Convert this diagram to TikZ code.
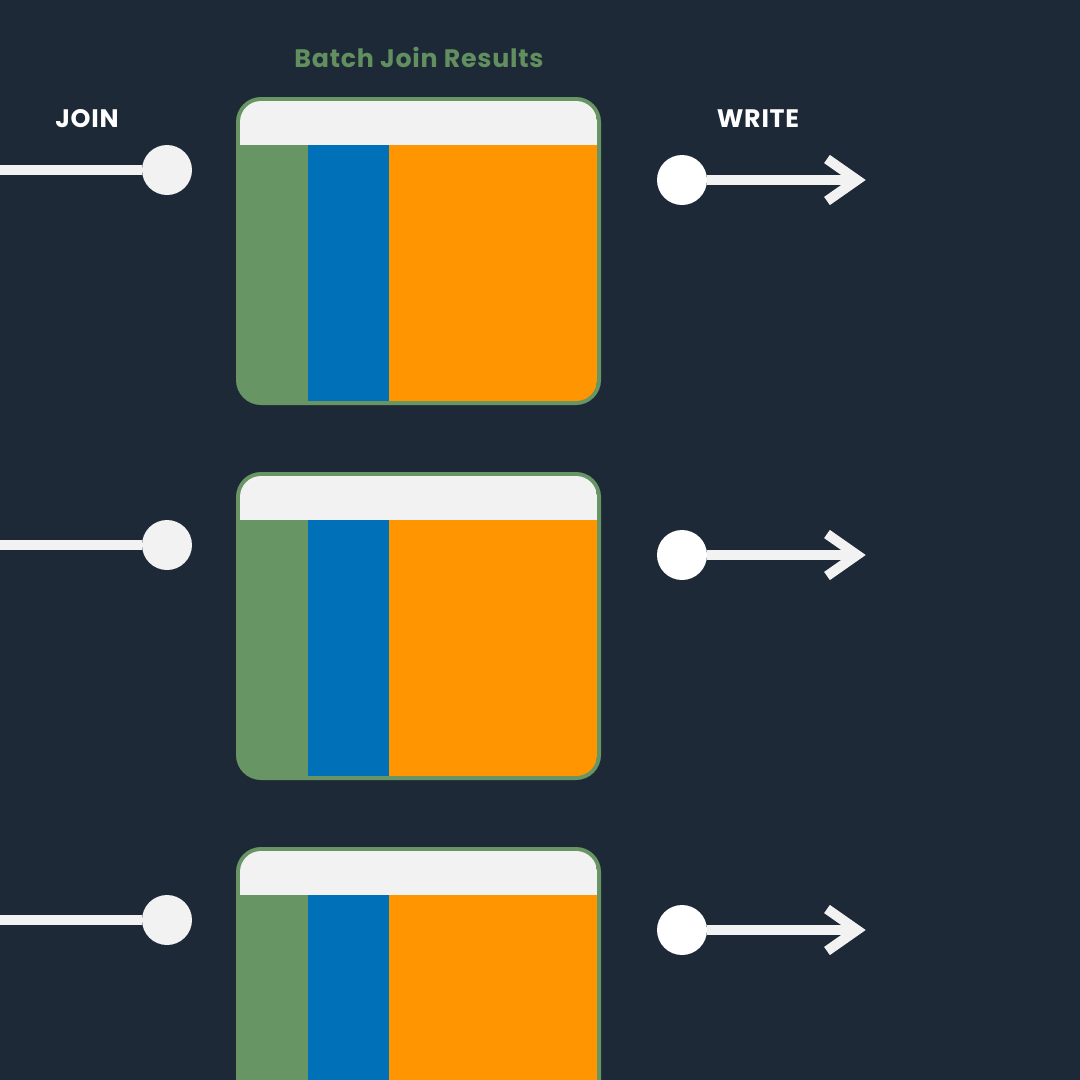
\documentclass[tikz,border=0pt]{standalone}
\usepackage{fontspec}
\setmainfont{Poppins}[LetterSpace=3]
\usepackage{tikz}
\usetikzlibrary{calc,positioning}
\definecolor{bgnavy}{RGB}{29,41,55}
\definecolor{cardgreen}{RGB}{103,150,100}
\definecolor{titlegreen}{RGB}{97,143,95}
\definecolor{colblue}{RGB}{0,112,184}
\definecolor{colorange}{RGB}{255,149,0}
\definecolor{headgray}{RGB}{242,242,242}
\tikzset{
  label/.style={text=white,font=\bfseries\fontsize{18}{21}\selectfont},
  dot/.style={circle,fill=#1,inner sep=0pt,minimum size=50*0.025cm},
  wire/.style={draw=headgray,line width=10*0.025cm},
  barb/.style={draw=headgray,line width=10*0.025cm,miter limit=10}
}
\newcommand{\card}[1]{%
  \fill[cardgreen,rounded corners=25*0.025cm] (236,#1) rectangle (601,#1+308);
  \begin{scope}
    \clip[rounded corners=21*0.025cm] (240,#1+4) rectangle (597,#1+304);
    \fill[headgray] (240,#1+4) rectangle (597,#1+48);
    \fill[colblue] (308,#1+48) rectangle (389,#1+304);
    \fill[colorange] (389,#1+48) rectangle (597,#1+304);
  \end{scope}
}
\begin{document}
\begin{tikzpicture}[x=0.025cm,y=-0.025cm]
\fill[bgnavy] (0,0) rectangle (1080,1080);
\useasboundingbox (0,0) rectangle (1080,1080);
\clip (0,0) rectangle (1080,1080);

\node[label,text=titlegreen] (title) at (419,57) {Batch Join Results};
\node[label] (join) at (87,119) {JOIN};
\node[label] (write) at (758,119) {WRITE};

\card{97}
\card{472}
\card{847}

% join side
\coordinate (jl1) at (0,170);
\coordinate (jl2) at (0,545);
\coordinate (jl3) at (0,920);
\node[dot=headgray] (j1) at (167,170) {};
\node[dot=headgray] (j2) at (167,545) {};
\node[dot=headgray] (j3) at (167,920) {};
\draw[wire] (jl1) -- (j1);
\draw[wire] (jl2) -- (j2);
\draw[wire] (jl3) -- (j3);

% write side
\node[dot=white] (w1) at (682,180) {};
\node[dot=white] (w2) at (682,555) {};
\node[dot=white] (w3) at (682,930) {};
\coordinate (we1) at (857,180);
\coordinate (we2) at (857,555);
\coordinate (we3) at (857,930);
\draw[wire] (w1) -- (we1);
\draw[wire] (w2) -- (we2);
\draw[wire] (w3) -- (we3);
\draw[barb] ($(we1)+(-30,-21)$) -- (we1) -- ($(we1)+(-30,21)$);
\draw[barb] ($(we2)+(-30,-21)$) -- (we2) -- ($(we2)+(-30,21)$);
\draw[barb] ($(we3)+(-30,-21)$) -- (we3) -- ($(we3)+(-30,21)$);
\end{tikzpicture}
\end{document}
